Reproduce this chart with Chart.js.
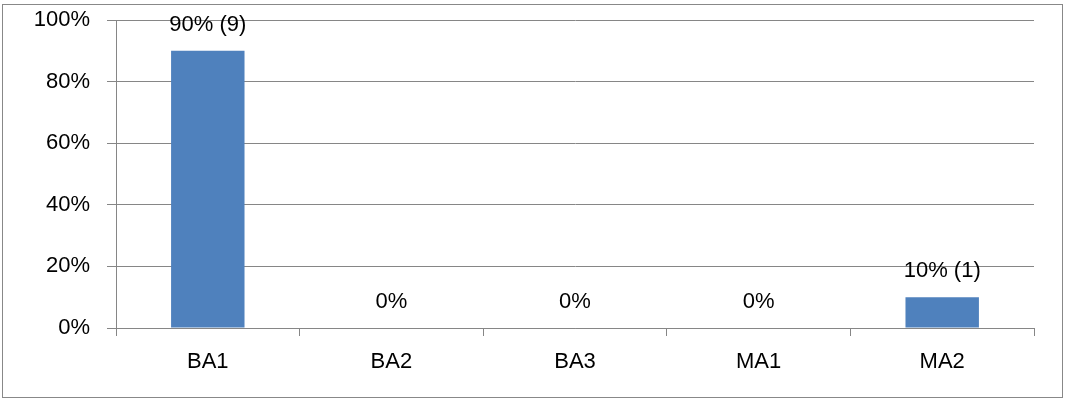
<!DOCTYPE html>
<html>
<head>
<meta charset="utf-8">
<script src="https://cdn.jsdelivr.net/npm/chart.js@4/dist/chart.umd.min.js"></script>
<style>
  html, body { margin: 0; padding: 0; background: #fff; }
  #wrap { position: relative; width: 1065px; height: 401px; }
  #frame {
    position: absolute; left: 2px; top: 4px; width: 1059px; height: 392px;
    border: 1px solid #888; pointer-events: none;
  }
</style>
</head>
<body>
<div id="wrap">
  <canvas id="chart" width="1065" height="401"></canvas>
  <div id="frame"></div>
</div>
<script>
const categories = ["BA1", "BA2", "BA3", "MA1", "MA2"];
const percentValues = [90, 0, 0, 0, 10];
const counts = [9, 0, 0, 0, 1];
const yTicks = [0, 20, 40, 60, 80, 100];

const fontFamily = "'Liberation Sans', 'DejaVu Sans', sans-serif";
const fontSize = 22;
const gridColor = "#868686";

function labelFor(i) {
  const pct = percentValues[i] + "%";
  return counts[i] ? `${pct} (${counts[i]})` : pct;
}

const valueLabels = {
  id: "valueLabels",
  afterDatasetsDraw(chart) {
    const ctx = chart.ctx;
    const meta = chart.getDatasetMeta(0);
    ctx.save();
    ctx.font = `${fontSize}px ${fontFamily}`;
    ctx.fillStyle = "#000";
    ctx.textAlign = "center";
    ctx.textBaseline = "middle";
    meta.data.forEach((bar, i) => {
      ctx.fillText(labelFor(i), bar.x, bar.y - 26);
    });
    ctx.restore();
  },
};

new Chart(document.getElementById("chart"), {
  type: "bar",
  data: {
    labels: categories,
    datasets: [
      {
        data: percentValues,
        backgroundColor: "#4F81BD",
        categoryPercentage: 0.4,
        barPercentage: 1,
      },
    ],
  },
  options: {
    responsive: false,
    animation: false,
    layout: { padding: { top: 20, right: 31, left: 0, bottom: 0 } },
    plugins: {
      legend: { display: false },
      tooltip: { enabled: false },
    },
    scales: {
      x: {
        offset: true,
        grid: {
          offset: true,
          drawOnChartArea: false,
          drawTicks: true,
          tickLength: 8,
          color: gridColor,
        },
        border: { color: gridColor, width: 1 },
        ticks: {
          color: "#000",
          font: { family: fontFamily, size: fontSize },
          padding: 13,
          maxRotation: 0,
        },
        afterFit(scale) {
          scale.height = 73;
          scale.paddingLeft = 0;
          scale.paddingRight = 0;
        },
      },
      y: {
        min: 0,
        max: 100,
        afterBuildTicks(scale) {
          scale.ticks = yTicks.map((v) => ({ value: v }));
        },
        grid: {
          color: gridColor,
          tickLength: 9,
        },
        border: { color: gridColor, width: 1 },
        ticks: {
          color: "#000",
          font: { family: fontFamily, size: fontSize },
          padding: 17,
          callback: (v) => v + "%",
        },
        afterFit(scale) {
          scale.width = 116;
          scale.paddingTop = 0;
          scale.paddingBottom = 0;
        },
      },
    },
  },
  plugins: [valueLabels],
});
</script>
</body>
</html>
